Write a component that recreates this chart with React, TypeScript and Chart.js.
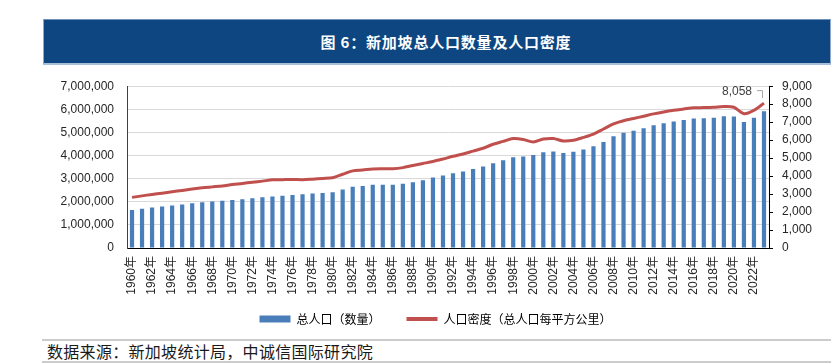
import React, { useEffect, useRef } from 'react';
import { Chart, registerables } from 'chart.js';

Chart.register(...registerables);

const years = [
  '1960年', '1961年', '1962年', '1963年', '1964年', '1965年', '1966年', '1967年', '1968年', '1969年',
  '1970年', '1971年', '1972年', '1973年', '1974年', '1975年', '1976年', '1977年', '1978年', '1979年',
  '1980年', '1981年', '1982年', '1983年', '1984年', '1985年', '1986年', '1987年', '1988年', '1989年',
  '1990年', '1991年', '1992年', '1993年', '1994年', '1995年', '1996年', '1997年', '1998年', '1999年',
  '2000年', '2001年', '2002年', '2003年', '2004年', '2005年', '2006年', '2007年', '2008年', '2009年',
  '2010年', '2011年', '2012年', '2013年', '2014年', '2015年', '2016年', '2017年', '2018年', '2019年',
  '2020年', '2021年', '2022年', '2023年',
];

const population = [
  1646400, 1702400, 1750200, 1795000, 1841600, 1886900, 1934400, 1977600, 2012000, 2042500,
  2074507, 2112900, 2152400, 2193000, 2229800, 2262600, 2293300, 2325300, 2353600, 2383500,
  2413945, 2532835, 2646466, 2681061, 2732221, 2735957, 2733373, 2774789, 2846108, 2930901,
  3047132, 3135083, 3230698, 3313471, 3419048, 3524506, 3670704, 3796038, 3927213, 3958723,
  4027887, 4138012, 4175950, 4114826, 4166664, 4265762, 4401365, 4588599, 4839396, 4987573,
  5076732, 5183688, 5312437, 5399162, 5469724, 5535002, 5607283, 5612253, 5638676, 5703569,
  5685807, 5453566, 5637022, 5917648,
];

const density = [
  2816, 2900, 2980, 3050, 3130, 3200, 3280, 3350, 3400, 3450,
  3530, 3590, 3660, 3720, 3790, 3800, 3810, 3800, 3830, 3870,
  3910, 4100, 4290, 4340, 4400, 4410, 4410, 4470, 4590, 4700,
  4810, 4950, 5100, 5230, 5390, 5550, 5770, 5930, 6090, 6040,
  5900, 6060, 6090, 5950, 5990, 6150, 6340, 6620, 6900, 7080,
  7200, 7330, 7460, 7570, 7660, 7730, 7800, 7810, 7830, 7870,
  7830, 7470, 7660, 8058,
];

const seriesNames = ['总人口（数量）', '人口密度（总人口每平方公里）'];
const leftAxis = { min: 0, max: 7000000, step: 1000000 };
const rightAxis = { min: 0, max: 9000, step: 1000 };

const titleText = '图 6：新加坡总人口数量及人口密度';
const sourceText = '数据来源：新加坡统计局，中诚信国际研究院';

const BAR_COLOR = '#4A7EBB';
const LINE_COLOR = '#C0504D';
const LATIN = '"Liberation Sans", "Noto Sans CJK SC", sans-serif';
const CJK = '"Noto Sans CJK SC", sans-serif';

const lastLabelPlugin = {
  id: 'lastLabel',
  afterDatasetsDraw(chart: any) {
    const meta = chart.getDatasetMeta(1);
    const pt = meta.data[meta.data.length - 1];
    if (!pt) return;
    const v = density[density.length - 1];
    const ctx = chart.ctx;
    ctx.save();
    ctx.strokeStyle = '#A6A6A6';
    ctx.lineWidth = 1;
    ctx.beginPath();
    ctx.moveTo(pt.x - 7, pt.y - 12.5);
    ctx.lineTo(pt.x - 1.5, pt.y - 12.5);
    ctx.lineTo(pt.x - 1.5, pt.y - 5);
    ctx.stroke();
    ctx.fillStyle = '#404040';
    ctx.font = '12px ' + LATIN;
    ctx.textAlign = 'right';
    ctx.textBaseline = 'middle';
    ctx.fillText(v.toLocaleString('en-US'), pt.x - 12, pt.y - 11);
    ctx.restore();
  },
};

export default function App() {
  const ref = useRef<HTMLCanvasElement | null>(null);

  useEffect(() => {
    if (!ref.current) return;
    const chart = new Chart(ref.current, {
      type: 'bar',
      data: {
        labels: years,
        datasets: [
          {
            type: 'bar',
            label: seriesNames[0],
            data: population,
            backgroundColor: BAR_COLOR,
            yAxisID: 'y',
            barPercentage: 0.42,
            categoryPercentage: 1,
            order: 2,
          },
          {
            type: 'line',
            label: seriesNames[1],
            data: density,
            borderColor: LINE_COLOR,
            backgroundColor: LINE_COLOR,
            borderWidth: 3,
            pointRadius: 0,
            tension: 0.3,
            yAxisID: 'y1',
            order: 1,
          },
        ],
      } as any,
      options: {
        responsive: false,
        animation: false,
        devicePixelRatio: 1,
        layout: { padding: { top: 17, left: 0, right: 0, bottom: 0 } },
        plugins: {
          tooltip: { enabled: false },
          legend: {
            position: 'bottom',
            labels: {
              usePointStyle: true,
              pointStyleWidth: 31,
              boxHeight: 7,
              padding: 8,
              color: '#333333',
              font: { family: CJK, size: 12 },
              generateLabels: () => [
                {
                  text: seriesNames[0] + '\u3000\u3000',
                  fillStyle: BAR_COLOR,
                  strokeStyle: BAR_COLOR,
                  lineWidth: 0,
                  pointStyle: 'rect',
                  datasetIndex: 0,
                  hidden: false,
                },
                {
                  text: seriesNames[1],
                  fillStyle: LINE_COLOR,
                  strokeStyle: LINE_COLOR,
                  lineWidth: 4,
                  pointStyle: 'line',
                  datasetIndex: 1,
                  hidden: false,
                },
              ],
            },
          },
        },
        scales: {
          x: {
            type: 'category',
            offset: true,
            grid: { display: true, drawOnChartArea: false, drawTicks: false },
            border: { display: true, color: '#000000', width: 1 },
            ticks: {
              autoSkip: false,
              maxRotation: 90,
              minRotation: 90,
              padding: 8,
              color: '#262626',
              font: { family: LATIN, size: 12 },
              callback: (_v: any, i: number) => (i % 2 === 0 ? years[i] : ''),
            },
            afterFit: (s: any) => {
              s.height = 57;
            },
          },
          y: {
            position: 'left',
            min: leftAxis.min,
            max: leftAxis.max,
            grid: { color: '#D9D9D9', lineWidth: 1, drawTicks: false },
            border: { display: true, color: '#404040', width: 1 },
            ticks: {
              stepSize: leftAxis.step,
              padding: 13,
              color: '#262626',
              font: { family: LATIN, size: 12 },
              callback: (v: any) => Number(v).toLocaleString('en-US'),
            },
            afterFit: (s: any) => {
              s.width = 95;
            },
          },
          y1: {
            position: 'right',
            min: rightAxis.min,
            max: rightAxis.max,
            grid: { drawOnChartArea: false, drawTicks: true, tickLength: 4, tickColor: '#000000' },
            border: { display: true, color: '#000000', width: 1 },
            ticks: {
              stepSize: rightAxis.step,
              padding: 9,
              color: '#262626',
              font: { family: LATIN, size: 12 },
              callback: (v: any) => Number(v).toLocaleString('en-US'),
            },
            afterFit: (s: any) => {
              s.width = 70;
            },
          },
        },
      } as any,
      plugins: [lastLabelPlugin],
    });
    return () => chart.destroy();
  }, []);

  return (
    <div
      style={{
        position: 'fixed',
        left: 0,
        top: 0,
        width: 839,
        height: 364,
        background: '#ffffff',
        overflow: 'hidden',
      }}
    >
      <div
        style={{
          position: 'absolute',
          left: 43,
          top: 19,
          width: 788,
          height: 46,
          boxSizing: 'border-box',
          background: '#0D4681',
          borderLeft: '1px solid #8EA9CB',
          borderRight: '1px solid #8EA9CB',
          borderTop: '1px solid #6F90BA',
          borderBottom: '2px solid #A9C0DA',
        }}
      >
        <div
          style={{
            position: 'absolute',
            left: 0,
            right: 0,
            top: 0,
            bottom: 0,
            paddingLeft: 18,
            display: 'flex',
            alignItems: 'center',
            justifyContent: 'center',
            color: '#ffffff',
            fontFamily: CJK,
            fontSize: 15,
            fontWeight: 700,
            letterSpacing: 0.8,
          }}
        >
          {titleText}
        </div>
      </div>
      <canvas
        ref={ref}
        width={807}
        height={269}
        style={{ position: 'absolute', left: 32, top: 66, width: 807, height: 269 }}
      />
      <div
        style={{
          position: 'absolute',
          left: 42,
          top: 339,
          width: 789,
          height: 24,
          boxSizing: 'border-box',
          borderTop: '2px solid #CCCCCC',
          borderBottom: '2px solid #CCCCCC',
        }}
      >
        <div
          style={{
            position: 'absolute',
            left: 5,
            top: 0,
            bottom: 0,
            display: 'flex',
            alignItems: 'center',
            color: '#1a1a1a',
            fontFamily: CJK,
            fontSize: 16,
            letterSpacing: 0.3,
            whiteSpace: 'nowrap',
          }}
        >
          {sourceText}
        </div>
      </div>
    </div>
  );
}
